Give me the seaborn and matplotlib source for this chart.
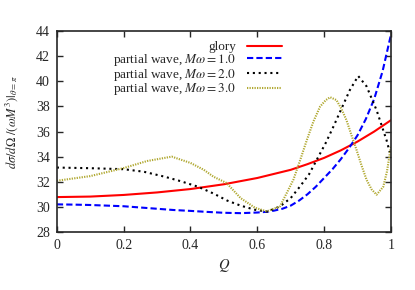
import seaborn as sns
import matplotlib
matplotlib.use("Agg")
import matplotlib.pyplot as plt

# glory approximation
q_glory = [0, 0.1, 0.2, 0.3, 0.4, 0.5, 0.6, 0.7, 0.75, 0.8, 0.85, 0.9, 0.95, 1.0]
v_glory = [30.78, 30.82, 30.95, 31.15, 31.42, 31.8, 32.3, 32.95, 33.4, 33.9, 34.5, 35.2, 36.0, 36.9]

# partial wave, M omega = 1.0
q_pw1 = [0, 0.05, 0.1, 0.15, 0.2, 0.25, 0.3, 0.35, 0.4, 0.45, 0.5, 0.55, 0.6, 0.625, 0.65,
         0.675, 0.7, 0.725, 0.75, 0.775, 0.8, 0.825, 0.85, 0.875, 0.9, 0.925, 0.95, 0.975, 1.0]
v_pw1 = [30.2, 30.18, 30.15, 30.1, 30.05, 29.95, 29.85, 29.75, 29.68, 29.6, 29.53, 29.5, 29.55, 29.6, 29.7,
         29.85, 30.1, 30.5, 31.0, 31.6, 32.3, 33.0, 33.8, 34.7, 35.7, 37.0, 38.6, 40.8, 43.7]

# partial wave, M omega = 2.0
q_pw2 = [0, 0.1, 0.2, 0.26, 0.323, 0.37, 0.423, 0.47, 0.51, 0.55, 0.593, 0.63, 0.668, 0.7, 0.728,
         0.755, 0.778, 0.805, 0.828, 0.855, 0.877, 0.902, 0.927, 0.957, 0.987, 1.0]
v_pw2 = [33.13, 33.08, 33.0, 32.8, 32.4, 32.05, 31.6, 31.05, 30.5, 30.1, 29.77, 29.62, 30.04, 30.7, 31.63,
         32.6, 33.75, 35.1, 36.4, 38.0, 39.3, 40.42, 39.6, 37.7, 35.3, 34.0]

# partial wave, M omega = 3.0
q_pw3 = [0, 0.1, 0.2, 0.27, 0.344, 0.4, 0.44, 0.469, 0.508, 0.55, 0.593, 0.628, 0.668, 0.708, 0.728,
         0.748, 0.768, 0.788, 0.805, 0.818, 0.837, 0.852, 0.867, 0.882, 0.897, 0.912, 0.927, 0.942,
         0.957, 0.977, 0.988, 1.0]
v_pw3 = [32.08, 32.45, 33.09, 33.65, 34.0, 33.5, 32.95, 32.4, 31.9, 30.7, 29.93, 29.64, 30.04, 32.16, 33.7,
         35.3, 36.8, 37.99, 38.5, 38.73, 38.5, 37.8, 36.9, 35.7, 34.54, 33.3, 32.16, 31.4,
         30.97, 31.6, 32.8, 34.8]

labels = ['glory',
          r'partial wave, $M\omega = 1.0$',
          r'partial wave, $M\omega = 2.0$',
          r'partial wave, $M\omega = 3.0$']

sns.set_style("ticks")
plt.rcParams['font.family'] = ['Liberation Serif', 'DejaVu Serif']
plt.rcParams['mathtext.fontset'] = 'stix'
plt.rcParams['font.size'] = 10

fig = plt.figure(figsize=(4.15, 2.9), dpi=100)
ax = fig.add_axes([0.137, 0.2, 0.805, 0.693])

sns.lineplot(x=q_glory, y=v_glory, ax=ax, color='#ff0000', lw=1.5, label=labels[0])
sns.lineplot(x=q_pw1, y=v_pw1, ax=ax, color='#0000ff', lw=1.5, label=labels[1])
sns.lineplot(x=q_pw2, y=v_pw2, ax=ax, color='#000000', lw=1.5, label=labels[2])
sns.lineplot(x=q_pw3, y=v_pw3, ax=ax, color='#b0a830', lw=1.5, label=labels[3])
ax.lines[1].set_dashes([3, 1.5])
ax.lines[2].set_dashes([1, 1.8])
ax.lines[3].set_dashes([0.6, 0.6])

ax.set_xlim(0, 1)
ax.set_ylim(28, 44)
ax.set_xticks([0, 0.2, 0.4, 0.6, 0.8, 1])
ax.set_xticklabels(['0', '0.2', '0.4', '0.6', '0.8', '1'])
ax.set_yticks(range(28, 45, 2))
ax.tick_params(direction='in', top=True, right=True, length=4, width=1, labelsize=10, pad=5)
for s in ax.spines.values():
    s.set_linewidth(1.2)

ax.set_xlabel(r'$Q$', fontsize=10.5)
ax.set_ylabel(r'$d\sigma/d\Omega\ /(\omega M^3)|_{\theta=\pi}$', fontsize=9)
ax.yaxis.set_label_coords(-0.11, 0.548)

leg = ax.legend(loc='upper right', bbox_to_anchor=(0.705, 1.0), frameon=False, markerfirst=False,
                handlelength=2.7, labelspacing=-0.1, borderaxespad=0.35, fontsize=9.5)
for h in leg.get_lines():
    h.set_linewidth(1.5)

fig.savefig('out.png', dpi=100)
